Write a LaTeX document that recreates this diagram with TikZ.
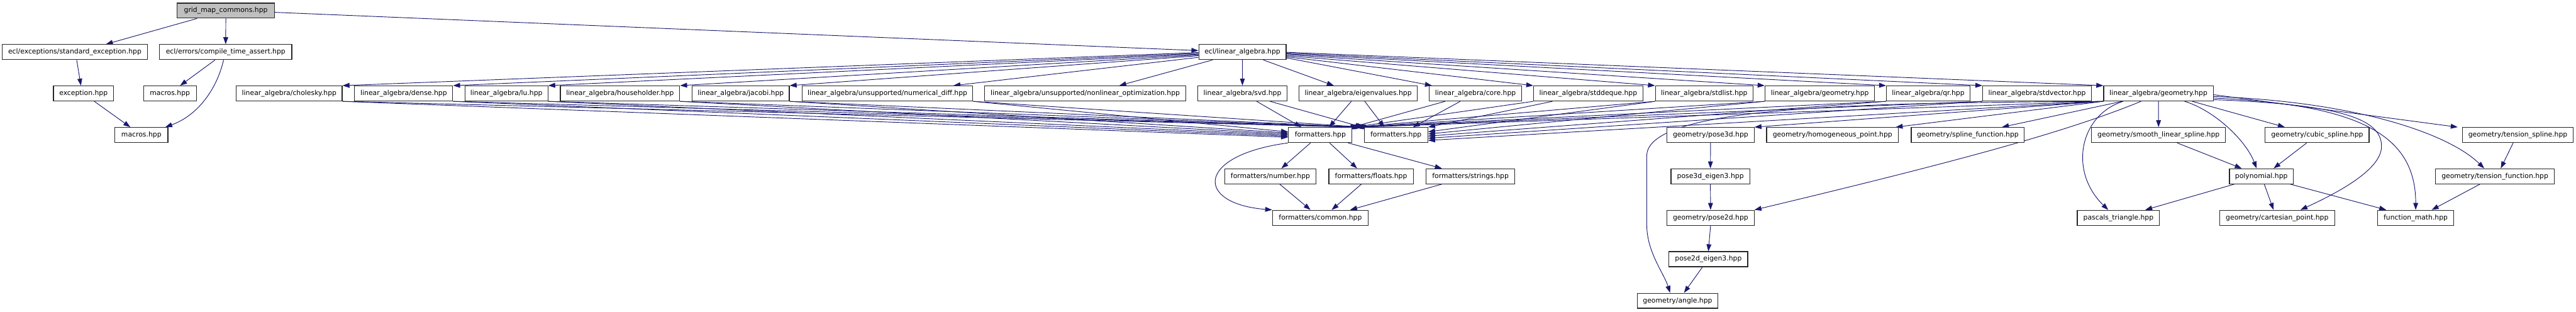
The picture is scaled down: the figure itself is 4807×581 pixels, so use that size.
\documentclass[tikz,border=0pt]{standalone}
\usepackage{fontspec}
\setmainfont{DejaVu Sans}
\usetikzlibrary{arrows.meta}
\definecolor{edgecol}{HTML}{191970}
\definecolor{rootfill}{HTML}{BFBFBF}
\pgfdeclarelayer{bg}
\pgfsetlayers{bg,main}
\begin{document}
\begin{tikzpicture}[x=1pt,y=-1pt,
  nb/.style={draw=black!85, line width=1.4pt, fill=white, minimum height=28pt, inner sep=0pt,
             font=\fontsize{12.7}{14}\selectfont, anchor=center},
  e/.style={draw=edgecol, line width=1.1pt, -{Triangle[length=13pt,width=9pt]}}]
\useasboundingbox (0,0) rectangle (4807,581);
% row 1
\node[nb, minimum width=181.5pt, fill=rootfill] (gmc) at (421.4,19.8) {grid\_map\_commons.hpp};
% row 2
\node[nb, minimum width=270.5pt] (stdexc) at (139.6,97.2) {ecl/exceptions/standard\_exception.hpp};
\node[nb, minimum width=246.8pt] (cta) at (421.1,97.2) {ecl/errors/compile\_time\_assert.hpp};
\node[nb, minimum width=162.9pt] (ela) at (2318.4,97.2) {ecl/linear\_algebra.hpp};
% row 3
\node[nb, minimum width=112.3pt] (exc) at (155.8,174.4) {exception.hpp};
\node[nb, minimum width=98.8pt] (mac1) at (317.1,174.4) {macros.hpp};
\node[nb, minimum width=197.5pt] (chol) at (539.7,174.4) {linear\_algebra/cholesky.hpp};
\node[nb, minimum width=183.1pt] (dense) at (753.3,174.4) {linear\_algebra/dense.hpp};
\node[nb, minimum width=154.6pt] (lu) at (945,174.4) {linear\_algebra/lu.hpp};
\node[nb, minimum width=222.8pt] (hh) at (1157,174.4) {linear\_algebra/householder.hpp};
\node[nb, minimum width=181.1pt] (jac) at (1382.3,174.4) {linear\_algebra/jacobi.hpp};
\node[nb, minimum width=318.7pt] (ndiff) at (1656,174.4) {linear\_algebra/unsupported/numerical\_diff.hpp};
\node[nb, minimum width=374.8pt] (nlopt) at (2025,174.4) {linear\_algebra/unsupported/nonlinear\_optimization.hpp};
\node[nb, minimum width=166.8pt] (svd) at (2318.4,174.4) {linear\_algebra/svd.hpp};
\node[nb, minimum width=220.1pt] (eig) at (2534.5,174.4) {linear\_algebra/eigenvalues.hpp};
\node[nb, minimum width=172pt] (core) at (2753.3,174.4) {linear\_algebra/core.hpp};
\node[nb, minimum width=203.8pt] (sdq) at (2963.7,174.4) {linear\_algebra/stddeque.hpp};
\node[nb, minimum width=182.3pt] (slist) at (3180.2,174.4) {linear\_algebra/stdlist.hpp};
\node[nb, minimum width=204.6pt] (geo1) at (3395.9,174.4) {linear\_algebra/geometry.hpp};
\node[nb, minimum width=156pt] (qr) at (3598.2,174.4) {linear\_algebra/qr.hpp};
\node[nb, minimum width=203pt] (svec) at (3801.3,174.4) {linear\_algebra/stdvector.hpp};
\node[nb, minimum width=204.5pt] (geo2) at (4027.8,174.4) {linear\_algebra/geometry.hpp};
% row 4
\node[nb, minimum width=98.9pt] (mac2) at (263.8,251.9) {macros.hpp};
\node[nb, minimum width=118.7pt] (fmt1) at (2463.7,251.9) {formatters.hpp};
\node[nb, minimum width=118.6pt] (fmt2) at (2605,251.9) {formatters.hpp};
\node[nb, minimum width=162.5pt] (pose3d) at (3192,251.9) {geometry/pose3d.hpp};
\node[nb, minimum width=246.3pt] (hpt) at (3419.6,251.9) {geometry/homogeneous\_point.hpp};
\node[nb, minimum width=211pt] (splf) at (3672,251.9) {geometry/spline\_function.hpp};
\node[nb, minimum width=250.2pt] (sls) at (4028,251.9) {geometry/smooth\_linear\_spline.hpp};
\node[nb, minimum width=193.8pt] (cub) at (4323.9,251.9) {geometry/cubic\_spline.hpp};
\node[nb, minimum width=207.1pt] (tsp) at (4698.5,251.9) {geometry/tension\_spline.hpp};
% row 5
\node[nb, minimum width=170.9pt] (num) at (2370.6,328.9) {formatters/number.hpp};
\node[nb, minimum width=157.3pt] (flt) at (2558.5,328.9) {formatters/floats.hpp};
\node[nb, minimum width=165.3pt] (str) at (2744,328.9) {formatters/strings.hpp};
\node[nb, minimum width=147.1pt] (p3e) at (3191.7,328.9) {pose3d\_eigen3.hpp};
\node[nb, minimum width=119.1pt] (poly) at (4219.8,328.9) {polynomial.hpp};
\node[nb, minimum width=221.4pt] (tfn) at (4655.7,328.9) {geometry/tension\_function.hpp};
% row 6
\node[nb, minimum width=178.5pt] (com) at (2463.8,406.3) {formatters/common.hpp};
\node[nb, minimum width=162.5pt] (p2d) at (3192,406.3) {geometry/pose2d.hpp};
\node[nb, minimum width=153.4pt] (pas) at (3953.1,406.3) {pascals\_triangle.hpp};
\node[nb, minimum width=215.1pt] (cart) at (4249.3,406.3) {geometry/cartesian\_point.hpp};
\node[nb, minimum width=142.5pt] (fm) at (4507.8,406.3) {function\_math.hpp};
% row 7, 8
\node[nb, minimum width=147.1pt] (p2e) at (3187.9,483.5) {pose2d\_eigen3.hpp};
\node[nb, minimum width=151pt] (ang) at (3130.5,561) {geometry/angle.hpp};

\begin{pgfonlayer}{bg}
% top part
\draw[e] ([xshift=-53.7pt]gmc.south) -- ([xshift=58pt]stdexc.north);
\draw[e] (gmc.south) -- (cta.north);
\draw[e] ([yshift=-3.2pt]gmc.east) -- ([yshift=2.8pt]ela.west);
\draw[e] ([xshift=3.5pt]stdexc.south) -- ([xshift=-4.8pt]exc.north);
\draw[e] ([xshift=20.2pt]exc.south) -- ([xshift=-20.6pt]mac2.north);
\draw[e] ([xshift=-19.8pt]cta.south) -- ([xshift=19pt]mac1.north);
\draw[e] ([xshift=-3.9pt]cta.south) .. controls (405,165) and (370,215) .. ([xshift=44.6pt]mac2.north);
% ecl/linear_algebra -> linear_algebra/*
\draw[e] ([yshift=-0.8pt]ela.west) -- (chol.north east);
\draw[e] ([yshift=-2.3pt]ela.west) -- (dense.north east);
\draw[e] ([yshift=-3.8pt]ela.west) -- (lu.north east);
\draw[e] ([yshift=-5.3pt]ela.west) -- (hh.north east);
\draw[e] ([yshift=-6.8pt]ela.west) -- (jac.north east);
\draw[e] ([yshift=-9.8pt]ela.west) -- ([xshift=-37pt]ndiff.north east);
\draw[e] ([xshift=-55.8pt]ela.south) -- ([xshift=63.6pt]nlopt.north);
\draw[e] (ela.south) -- (svd.north);
\draw[e] ([xshift=39.1pt]ela.south) -- ([xshift=-45.5pt]eig.north);
\draw[e] ([yshift=-10.8pt]ela.east) -- ([xshift=5.5pt]core.north west);
\draw[e] ([yshift=-8.8pt]ela.east) -- (sdq.north west);
\draw[e] ([yshift=-6.8pt]ela.east) -- (slist.north west);
\draw[e] ([yshift=-4.8pt]ela.east) -- (geo1.north west);
\draw[e] ([yshift=-3.3pt]ela.east) -- (qr.north west);
\draw[e] ([yshift=-1.8pt]ela.east) -- (svec.north west);
\draw[e] ([yshift=-0.3pt]ela.east) -- (geo2.north west);
% linear_algebra/* -> formatters
\draw[e] (chol.south east) -- ([yshift=-4.1pt]fmt1.west);
\draw[e] (dense.south east) -- ([yshift=-2.1pt]fmt1.west);
\draw[e] (lu.south east) -- (fmt1.west);
\draw[e] (hh.south east) -- ([yshift=1.9pt]fmt1.west);
\draw[e] (jac.south east) -- ([yshift=3.9pt]fmt1.west);
\draw[e] (ndiff.south east) -- ([yshift=5.9pt]fmt1.west);
\draw[e] (chol.south east) -- ([xshift=-12pt]fmt2.north west);
\draw[e] (dense.south east) -- ([xshift=-10pt]fmt2.north west);
\draw[e] (lu.south east) -- ([xshift=-8pt]fmt2.north west);
\draw[e] (hh.south east) -- ([xshift=-6pt]fmt2.north west);
\draw[e] (jac.south east) -- ([xshift=-4pt]fmt2.north west);
\draw[e] (ndiff.south east) -- ([xshift=-2pt]fmt2.north west);
\draw[e] ([xshift=26.6pt]svd.south) -- ([xshift=-35.4pt]fmt1.north);
\draw[e] ([xshift=51.6pt]svd.south) -- ([xshift=-3pt]fmt2.north west);
\draw[e] ([xshift=-12.8pt]eig.south) -- ([xshift=16.3pt]fmt1.north);
\draw[e] ([xshift=12.2pt]eig.south) -- ([xshift=-21.7pt]fmt2.north);
\draw[e] ([xshift=-56.6pt]core.south) -- (fmt1.north east);
\draw[e] ([xshift=-28.3pt]core.south) -- ([xshift=31.7pt]fmt2.north);
\draw[e] (sdq.south west) -- ([xshift=2pt]fmt1.north east);
\draw[e] ([xshift=36pt]sdq.south west) -- (fmt2.north east);
\draw[e] (slist.south west) -- ([xshift=4pt]fmt1.north east);
\draw[e] (slist.south west) -- ([yshift=6pt]fmt2.east);
\draw[e] (geo1.south west) -- ([xshift=6pt]fmt1.north east);
\draw[e] (geo1.south west) -- ([yshift=2pt]fmt2.east);
\draw[e] (qr.south west) -- ([xshift=8pt]fmt1.north east);
\draw[e] (qr.south west) -- ([yshift=-2pt]fmt2.east);
\draw[e] (svec.south west) -- ([xshift=10pt]fmt1.north east);
\draw[e] (svec.south west) -- ([yshift=-6pt]fmt2.east);
\draw[e] (geo2.south west) -- ([xshift=12pt]fmt1.north east);
\draw[e] (geo2.south west) -- ([yshift=-10pt]fmt2.east);
% formatters
\draw[e] ([xshift=-18.2pt]fmt1.south) -- ([xshift=20.5pt]num.north);
\draw[e] ([xshift=17.3pt]fmt1.south) -- ([xshift=-26pt]flt.north);
\draw[e] ([xshift=-8.3pt]fmt1.south east) -- ([xshift=-53.4pt]str.north);
\draw[e] (fmt1.south west) .. controls (2230,290) and (2230,380) .. (com.north west);
\draw[e] ([xshift=17.4pt]num.south) -- ([xshift=-18.3pt]com.north);
\draw[e] ([xshift=-18.1pt]flt.south) -- ([xshift=21.2pt]com.north);
\draw[e] ([xshift=-53.4pt]str.south) -- ([xshift=-34.4pt]com.north east);
% geometry
\draw[e] (geo2.south west) -- (pose3d.north east);
\draw[e] (geo2.south west) -- ([xshift=-6pt]hpt.north east);
\draw[e] ([xshift=-67.8pt]geo2.south) -- ([xshift=63.7pt]splf.north);
\draw[e] ([xshift=-32.4pt]geo2.south) .. controls (3870,240) and (3700,290) .. (p2d.north east);
\draw[e] (geo2.south west) .. controls (3500,192) and (3075,195) .. (3073,290) -- (3073,420) .. controls (3073,470) and (3105,510) .. ([xshift=-14pt]ang.north);
\draw[e] (geo2.south) -- (sls.north);
\draw[e] ([xshift=-66pt]geo2.south) .. controls (3880,215) and (3860,320) .. ([xshift=-19pt]pas.north);
\draw[e] ([xshift=48.7pt]geo2.south) .. controls (4130,205) and (4190,260) .. ([xshift=-8.8pt]poly.north);
\draw[e] ([xshift=63pt]geo2.south) -- ([xshift=-60.3pt]cub.north);
\draw[e] ([yshift=-11.6pt]geo2.east) .. controls (4380,195) and (4445,225) .. (4444,274) .. controls (4443,320) and (4350,365) .. ([xshift=43.6pt]cart.north);
\draw[e] ([yshift=-8.6pt]geo2.east) .. controls (4400,195) and (4508,250) .. (fm.north);
\draw[e] ([yshift=-5.6pt]geo2.east) .. controls (4400,190) and (4570,250) .. ([xshift=-20pt]tfn.north);
\draw[e] ([yshift=-2.3pt]geo2.east) -- ([xshift=-8pt]tsp.north west);
\draw[e] (pose3d.south) -- (p3e.north);
\draw[e] (p3e.south) -- (p2d.north);
\draw[e] (p2d.south) -- (p2e.north);
\draw[e] ([xshift=-11pt]p2e.south) -- ([xshift=12pt]ang.north);
\draw[e] ([xshift=34.6pt]sls.south) -- ([xshift=-36.6pt]poly.north);
\draw[e] ([xshift=-19.4pt]cub.south) -- ([xshift=22.8pt]poly.north);
\draw[e] ([xshift=-50.4pt]poly.south) -- ([xshift=50pt]pas.north);
\draw[e] ([xshift=5.4pt]poly.south) -- ([xshift=-6.7pt]cart.north);
\draw[e] ([xshift=53.8pt]poly.south) -- ([xshift=17pt]fm.north west);
\draw[e] ([xshift=-8.8pt]tsp.south) -- ([xshift=10.8pt]tfn.north);
\draw[e] ([xshift=-27.9pt]tfn.south) -- ([xshift=-42pt]fm.north east);
\end{pgfonlayer}
\end{tikzpicture}
\end{document}
